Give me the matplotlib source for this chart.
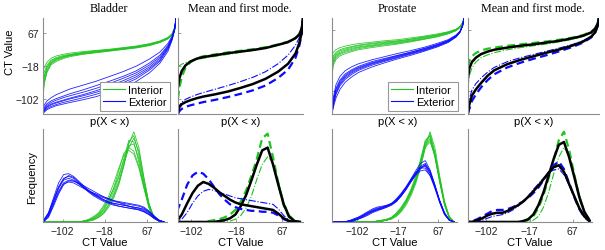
import matplotlib
matplotlib.use("Agg")
import matplotlib.pyplot as plt
from matplotlib.lines import Line2D

# ---- data ----
# quantile curves: CT value at cumulative probability p
p_grid = [0, .01, .03, .06, .1, .15, .2, .3, .4, .5, .6, .7, .8, .88, .94, .97, .99, 1]

bladder_q_interior = [
    [-31, -20, -8, 2, 8, 12, 15, 19, 22, 25, 29, 33, 39, 46, 55, 64, 80, 102],
    [-50, -32, -15, -3, 4, 9, 12, 17, 21, 24, 28, 32, 38, 45, 54, 63, 79, 100],
    [-65, -42, -22, -8, 0, 6, 10, 15, 19, 22, 26, 30, 36, 43, 52, 62, 78, 100],
    [-78, -52, -28, -12, -3, 3, 8, 13, 17, 21, 25, 29, 35, 43, 52, 62, 78, 99],
    [-96, -62, -34, -15, -6, 1, 6, 12, 16, 20, 24, 28, 34, 42, 51, 61, 77, 98],
    [-88, -58, -30, -10, -1, 5, 9, 14, 18, 22, 26, 31, 37, 44, 53, 63, 80, 101],
    [-70, -45, -20, -5, 2, 7, 11, 16, 20, 23, 27, 31, 37, 44, 53, 62, 78, 99],
]
bladder_q_exterior = [
    [-125, -116, -106, -98, -90, -83, -76, -66, -56, -44, -32, -18, 0, 18, 40, 58, 78, 104],
    [-130, -122, -113, -106, -100, -94, -88, -78, -67, -56, -44, -30, -10, 10, 35, 55, 77, 104],
    [-135, -128, -120, -114, -109, -104, -99, -90, -80, -68, -55, -40, -20, 2, 30, 52, 75, 104],
    [-138, -132, -125, -120, -115, -110, -106, -98, -89, -78, -65, -50, -28, -5, 25, 50, 74, 103],
    [-139, -134, -128, -123, -118, -114, -110, -103, -95, -84, -72, -57, -35, -10, 20, 47, 73, 103],
    [-132, -125, -117, -110, -104, -98, -93, -84, -74, -62, -49, -35, -15, 6, 33, 54, 76, 104],
    [-137, -130, -122, -116, -111, -106, -101, -93, -84, -73, -60, -45, -24, -2, 28, 51, 75, 104],
]
prostate_q_interior = [
    [-6, 5, 12, 18, 22, 26, 29, 33, 37, 40, 45, 50, 56, 62, 69, 77, 88, 100],
    [-20, -5, 5, 12, 17, 21, 25, 30, 34, 37, 42, 48, 54, 61, 68, 76, 87, 100],
    [-35, -15, -3, 5, 11, 16, 20, 25, 30, 34, 39, 45, 52, 59, 67, 75, 86, 100],
    [-50, -25, -10, -1, 5, 10, 15, 21, 26, 30, 36, 42, 49, 57, 65, 74, 85, 99],
    [-61, -32, -15, -5, 1, 7, 12, 18, 23, 28, 34, 41, 48, 56, 65, 74, 85, 99],
    [-28, -10, 1, 9, 14, 19, 23, 28, 32, 36, 41, 47, 53, 60, 68, 76, 87, 100],
    [-42, -20, -6, 2, 8, 13, 18, 23, 28, 32, 37, 43, 50, 58, 66, 75, 86, 100],
]
prostate_q_exterior = [
    [-160, -120, -85, -62, -46, -35, -27, -16, -7, 2, 10, 19, 30, 40, 53, 64, 81, 100],
    [-163, -128, -95, -72, -55, -43, -34, -21, -12, -3, 6, 16, 27, 38, 51, 63, 80, 100],
    [-166, -135, -103, -80, -62, -49, -39, -26, -16, -6, 3, 13, 25, 36, 50, 62, 80, 100],
    [-166, -142, -112, -88, -70, -56, -45, -31, -20, -10, 0, 10, 22, 34, 48, 61, 79, 100],
    [-166, -148, -122, -98, -78, -63, -51, -36, -24, -13, -3, 8, 20, 32, 47, 60, 79, 100],
    [-165, -131, -98, -76, -59, -46, -37, -24, -14, -4, 5, 15, 26, 37, 50, 62, 80, 100],
    [-166, -139, -108, -84, -66, -52, -42, -28, -18, -8, 2, 12, 23, 35, 49, 61, 79, 100],
]

# mean and first mode (mode+ dashed, mode- dash-dot)
bladder_q_mean_int = [-71, -50, -30, -16, -6, 1, 5, 10, 15, 19, 23, 28, 36, 43, 53, 62, 78, 100]
bladder_q_plus_int = [-100, -75, -45, -22, -8, 2, 7, 12, 17, 21, 25, 30, 37, 44, 54, 63, 79, 100]
bladder_q_minus_int = [-20, -17, -13, -9, -5, -1, 2, 7, 12, 17, 22, 28, 35, 42, 52, 61, 77, 100]
bladder_q_mean_ext = [-134, -122, -114, -109, -104, -99, -95, -89, -82, -73, -63, -50, -32, -12, 14, 40, 68, 104]
bladder_q_plus_ext = [-139, -132, -126, -121, -117, -113, -109, -103, -96, -88, -79, -67, -48, -27, 3, 33, 64, 104]
bladder_q_minus_ext = [-128, -118, -109, -102, -96, -90, -85, -76, -67, -57, -46, -32, -12, 10, 35, 54, 75, 104]

prostate_q_mean_int = [-65, -40, -22, -10, 0, 7, 12, 18, 23, 27, 32, 37, 44, 51, 60, 70, 84, 100]
prostate_q_plus_int = [-35, -18, -6, 3, 10, 15, 18, 23, 27, 31, 35, 40, 46, 53, 62, 71, 85, 100]
prostate_q_minus_int = [-90, -60, -38, -22, -10, -2, 4, 12, 18, 23, 28, 34, 41, 49, 58, 68, 83, 100]
prostate_q_mean_ext = [-160, -140, -115, -98, -80, -60, -45, -28, -16, -6, 4, 13, 24, 35, 48, 60, 79, 100]
prostate_q_plus_ext = [-166, -152, -130, -112, -92, -72, -56, -37, -24, -13, -3, 8, 20, 32, 46, 59, 78, 100]
prostate_q_minus_ext = [-150, -125, -100, -82, -66, -50, -37, -21, -10, -1, 8, 17, 27, 37, 50, 61, 80, 100]

# histograms: relative frequency at CT value
ct_bladder = [-140, -130, -120, -110, -100, -90, -80, -70, -60, -50, -40, -30, -20,
              -10, 0, 10, 20, 30, 40, 50, 60, 70, 80, 90, 100]
ct_prostate = [-150, -140, -130, -120, -110, -100, -90, -80, -70, -60, -50, -40, -30,
               -20, -10, 0, 10, 20, 30, 40, 50, 60, 70, 80, 90, 100]

bladder_h_exterior = [
    [.01, .10, .26, .42, .51, .52, .49, .44, .39, .34, .30, .27, .24, .21, .19, .17, .16, .15, .14, .13, .11, .08, .04, .01, 0],
    [.01, .07, .20, .33, .42, .45, .44, .41, .37, .34, .31, .28, .26, .24, .22, .21, .20, .19, .18, .17, .15, .11, .06, .02, 0],
    [.01, .08, .22, .36, .45, .47, .45, .41, .37, .33, .30, .27, .24, .22, .20, .19, .18, .17, .16, .15, .13, .10, .05, .02, 0],
    [0, .05, .17, .30, .40, .44, .44, .42, .39, .36, .33, .30, .27, .25, .23, .21, .19, .17, .15, .13, .11, .08, .04, .01, 0],
    [.02, .10, .24, .38, .47, .49, .47, .42, .37, .32, .28, .25, .22, .20, .18, .17, .16, .15, .14, .14, .12, .09, .05, .02, 0],
    [.01, .06, .19, .32, .41, .43, .42, .39, .36, .33, .31, .29, .27, .25, .23, .22, .21, .20, .19, .18, .16, .12, .07, .02, 0],
    [.01, .09, .23, .37, .46, .50, .48, .43, .38, .33, .29, .26, .23, .21, .20, .19, .18, .17, .16, .15, .14, .11, .06, .02, 0],
]
bladder_h_interior = [
    [0, 0, 0, 0, 0, 0, 0, 0, .01, .02, .03, .05, .09, .16, .26, .40, .60, .84, .97, .80, .48, .20, .05, .01, 0],
    [0, 0, 0, 0, 0, 0, 0, 0, .01, .03, .06, .10, .18, .28, .42, .58, .72, .77, .73, .58, .36, .15, .04, .01, 0],
    [0, 0, 0, 0, 0, 0, 0, 0, .01, .02, .04, .07, .13, .22, .33, .48, .66, .82, .84, .68, .42, .18, .05, .01, 0],
    [0, 0, 0, 0, 0, 0, 0, 0, 0, .01, .03, .06, .11, .19, .30, .44, .62, .80, .90, .76, .47, .20, .05, .01, 0],
    [0, 0, 0, 0, 0, 0, 0, 0, .01, .02, .05, .09, .16, .25, .36, .50, .68, .88, .86, .64, .38, .16, .04, .01, 0],
    [0, 0, 0, 0, 0, 0, 0, 0, .01, .02, .04, .08, .14, .24, .37, .55, .74, .80, .76, .60, .38, .17, .05, .01, 0],
    [0, 0, 0, 0, 0, 0, 0, 0, 0, .01, .02, .05, .10, .18, .28, .42, .62, .86, .93, .72, .43, .18, .05, .01, 0],
]
prostate_h_interior = [
    [0, 0, 0, 0, 0, 0, 0, 0, 0, .01, .02, .03, .05, .10, .16, .24, .35, .49, .67, .88, .92, .70, .42, .18, .04, 0],
    [0, 0, 0, 0, 0, 0, 0, 0, 0, 0, .01, .02, .03, .06, .11, .18, .28, .41, .58, .80, .97, .80, .50, .22, .05, 0],
    [0, 0, 0, 0, 0, 0, 0, 0, 0, .01, .01, .02, .04, .08, .14, .22, .32, .45, .62, .83, .90, .72, .45, .20, .05, 0],
    [0, 0, 0, 0, 0, 0, 0, 0, 0, .01, .01, .02, .04, .07, .12, .20, .30, .43, .60, .80, .86, .72, .47, .22, .06, 0],
    [0, 0, 0, 0, 0, 0, 0, 0, 0, .01, .02, .03, .05, .09, .15, .23, .33, .47, .65, .86, .95, .75, .45, .19, .04, 0],
    [0, 0, 0, 0, 0, 0, 0, 0, 0, 0, .01, .02, .04, .08, .13, .21, .31, .44, .60, .82, .88, .70, .44, .19, .05, 0],
    [0, 0, 0, 0, 0, 0, 0, 0, 0, .01, .01, .02, .04, .08, .14, .22, .33, .46, .64, .85, .93, .74, .46, .20, .05, 0],
]
prostate_h_exterior = [
    [0, 0, 0, .01, .03, .05, .08, .11, .14, .16, .17, .18, .20, .24, .30, .37, .46, .55, .63, .66, .56, .40, .22, .09, .02, 0],
    [0, 0, 0, 0, .01, .03, .05, .07, .10, .12, .14, .16, .19, .23, .28, .35, .43, .50, .55, .56, .50, .38, .23, .10, .02, 0],
    [0, 0, 0, .01, .02, .04, .06, .09, .12, .14, .15, .17, .19, .23, .29, .36, .44, .52, .58, .60, .52, .38, .22, .09, .02, 0],
    [0, 0, 0, .01, .02, .04, .07, .10, .13, .15, .16, .17, .19, .22, .28, .35, .43, .51, .57, .62, .55, .40, .23, .09, .02, 0],
    [0, 0, 0, .01, .02, .03, .05, .08, .11, .13, .15, .17, .20, .25, .31, .38, .46, .53, .58, .58, .50, .36, .21, .08, .02, 0],
    [0, 0, 0, .01, .03, .05, .07, .10, .12, .14, .16, .18, .20, .24, .30, .37, .45, .53, .60, .63, .54, .38, .21, .08, .02, 0],
    [0, 0, 0, 0, .01, .03, .06, .09, .11, .13, .14, .16, .18, .22, .28, .35, .44, .52, .59, .61, .53, .39, .23, .10, .02, 0],
]

bladder_h_mean_int = [0, 0, 0, 0, 0, 0, 0, 0, 0, .01, .02, .04, .08, .17, .29, .45, .62, .77, .80, .62, .40, .19, .06, .01, 0]
bladder_h_plus_int = [0, 0, 0, 0, 0, 0, 0, .01, .02, .03, .05, .08, .13, .22, .34, .50, .68, .90, .95, .70, .42, .18, .05, .01, 0]
bladder_h_minus_int = [0, 0, 0, 0, 0, 0, 0, 0, 0, 0, .01, .01, .03, .07, .15, .28, .46, .62, .70, .64, .44, .22, .08, .02, 0]
bladder_h_mean_ext = [0, 0, .08, .20, .31, .39, .43, .41, .37, .32, .28, .24, .21, .19, .18, .17, .16, .15, .14, .13, .09, .04, .01, 0, 0]
bladder_h_plus_ext = [0, .10, .24, .40, .50, .54, .52, .46, .38, .30, .24, .19, .16, .14, .13, .12, .12, .11, .11, .10, .07, .03, .01, 0, 0]
bladder_h_minus_ext = [0, 0, .03, .10, .20, .28, .33, .35, .34, .32, .30, .28, .26, .25, .24, .23, .22, .21, .20, .19, .14, .07, .02, 0, 0]

prostate_h_mean_int = [0, 0, 0, 0, 0, 0, 0, 0, 0, 0, 0, 0, .01, .03, .08, .18, .32, .50, .68, .83, .86, .70, .49, .27, .11, .02]
prostate_h_plus_int = [0, 0, 0, 0, 0, 0, 0, 0, 0, 0, 0, 0, 0, .02, .06, .15, .29, .47, .67, .88, .97, .78, .52, .27, .10, .02]
prostate_h_minus_int = [0, 0, 0, 0, 0, 0, 0, 0, 0, 0, 0, 0, 0, 0, .02, .06, .16, .32, .52, .70, .80, .72, .52, .30, .12, .03]
prostate_h_mean_ext = [0, 0, 0, .02, .04, .07, .09, .10, .10, .12, .15, .18, .22, .27, .33, .39, .46, .53, .59, .61, .54, .41, .28, .15, .06, .01]
prostate_h_plus_ext = [0, 0, .01, .03, .06, .09, .12, .13, .13, .14, .16, .19, .22, .26, .31, .37, .45, .53, .61, .65, .57, .42, .27, .14, .05, .01]
prostate_h_minus_ext = [0, 0, 0, .01, .02, .04, .06, .07, .08, .10, .13, .17, .22, .28, .35, .41, .47, .53, .56, .57, .51, .40, .28, .15, .06, .01]

bladder_ticks = [-102, -18, 67]
prostate_ticks = [-102, -17, 67]

# ---- drawing ----
W, H = 605, 251
GREEN = "#1fc41f"
BLUE = "#0a0aff"
SPINE = "#8c8c8c"
SANS = ["Liberation Sans", "DejaVu Sans"]
SERIF = ["Liberation Serif", "DejaVu Serif"]

plt.rcParams["font.family"] = SANS
fig = plt.figure(figsize=(W / 100, H / 100), dpi=100)


def px_axes(x0, y0, x1, y1):
    """Axes placed by pixel box (top-left origin)."""
    ax = fig.add_axes([x0 / W, 1 - y1 / H, (x1 - x0) / W, (y1 - y0) / H])
    ax.set_facecolor("none")
    for s in ("top", "right"):
        ax.spines[s].set_visible(False)
    for s in ("left", "bottom"):
        ax.spines[s].set_color(SPINE)
        ax.spines[s].set_linewidth(0.8)
    ax.tick_params(direction="in", length=2.5, width=0.6, color=SPINE,
                   labelsize=7.5, pad=3, labelcolor="#222222")
    return ax


def bundle(ax, x, rows, color):
    for row in rows:
        ax.plot(x, row, color=color, lw=0.6, alpha=0.9)


def mean_mode(ax, x, mean, plus, minus, color):
    ax.plot(x, minus, color=color, lw=0.8, ls="-.")
    ax.plot(x, plus, color=color, lw=1.6, ls=(0, (3.5, 2)))
    ax.plot(x, mean, color="black", lw=1.8)


def fig_text(x, y, s, **kw):
    fig.text(x / W, 1 - y / H, s, ha="center", va="center", **kw)


top_y = (19, 115)
bot_y = (130, 223)
top_x = [(43, 176), (178, 303), (332, 464), (468, 599)]
bot_x = [(43, 167), (178, 303), (332, 457), (468, 592)]
q_ylims = [(-139, 104), (-139, 104), (-166, 100), (-166, 100)]
h_xlims = [(-141, 106), (-127, 106), (-154, 106), (-138, 105)]

# top row: quantile curves
tops = [px_axes(x0, top_y[0], x1, top_y[1]) for x0, x1 in top_x]
bundle(tops[0], p_grid, bladder_q_interior, GREEN)
bundle(tops[0], p_grid, bladder_q_exterior, BLUE)
mean_mode(tops[1], p_grid, bladder_q_mean_int, bladder_q_plus_int, bladder_q_minus_int, GREEN)
mean_mode(tops[1], p_grid, bladder_q_mean_ext, bladder_q_plus_ext, bladder_q_minus_ext, BLUE)
bundle(tops[2], p_grid, prostate_q_interior, GREEN)
bundle(tops[2], p_grid, prostate_q_exterior, BLUE)
mean_mode(tops[3], p_grid, prostate_q_mean_int, prostate_q_plus_int, prostate_q_minus_int, GREEN)
mean_mode(tops[3], p_grid, prostate_q_mean_ext, prostate_q_plus_ext, prostate_q_minus_ext, BLUE)

for i, ax in enumerate(tops):
    ax.set_xlim(0, 1)
    ax.set_ylim(*q_ylims[i])
    ax.set_xticks([])
    ax.set_yticks(bladder_ticks if i < 2 else prostate_ticks)
    if i > 0:
        ax.set_yticklabels([])
    x0, x1 = top_x[i]
    fig_text((x0 + x1) / 2, 122, "p(X < x)", fontsize=8)

titles = ["Bladder", "Mean and first mode.", "Prostate", "Mean and first mode."]
for (x0, x1), t in zip(top_x, titles):
    fig_text((x0 + x1) / 2 - 1, 9, t, fontsize=8.7, family=SERIF)

handles = [Line2D([], [], color=GREEN, lw=0.8), Line2D([], [], color=BLUE, lw=0.8)]
for ax, right in ((tops[0], 170), (tops[2], 458)):
    leg = ax.legend(handles, ["Interior", "Exterior"], loc="lower right",
                    bbox_to_anchor=(right / W, 1 - 111.7 / H),
                    bbox_transform=fig.transFigure, borderaxespad=0,
                    fontsize=8, fancybox=False, framealpha=1, edgecolor="#999999",
                    handlelength=2.0, handletextpad=0.25, borderpad=0.3,
                    labelspacing=0.2)
    leg.get_frame().set_linewidth(0.8)

# bottom row: histograms
bots = [px_axes(x0, bot_y[0], x1, bot_y[1]) for x0, x1 in bot_x]
bundle(bots[0], ct_bladder, bladder_h_interior, GREEN)
bundle(bots[0], ct_bladder, bladder_h_exterior, BLUE)
mean_mode(bots[1], ct_bladder, bladder_h_mean_int, bladder_h_plus_int, bladder_h_minus_int, GREEN)
mean_mode(bots[1], ct_bladder, bladder_h_mean_ext, bladder_h_plus_ext, bladder_h_minus_ext, BLUE)
bundle(bots[2], ct_prostate, prostate_h_interior, GREEN)
bundle(bots[2], ct_prostate, prostate_h_exterior, BLUE)
mean_mode(bots[3], ct_prostate, prostate_h_mean_int, prostate_h_plus_int, prostate_h_minus_int, GREEN)
mean_mode(bots[3], ct_prostate, prostate_h_mean_ext, prostate_h_plus_ext, prostate_h_minus_ext, BLUE)

for i, ax in enumerate(bots):
    ax.set_xlim(*h_xlims[i])
    ax.set_ylim(0, 1.0)
    ax.set_yticks([])
    ax.set_xticks(bladder_ticks if i < 2 else prostate_ticks)
    x0, x1 = bot_x[i]
    fig_text((x0 + x1) / 2, 243, "CT Value", fontsize=8)

fig_text(10, 52, "CT Value", fontsize=8, rotation=90)
fig_text(32, 177, "Frequency", fontsize=8, rotation=90)

fig.savefig("out.png", dpi=100)
